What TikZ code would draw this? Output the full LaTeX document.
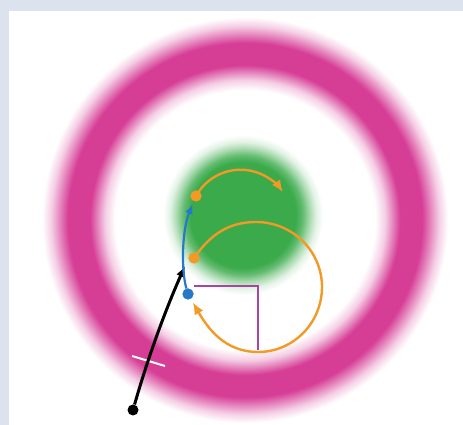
\documentclass[tikz,border=0pt]{standalone}
\usetikzlibrary{arrows.meta}

\definecolor{panelblue}{RGB}{220,226,238}
\definecolor{ringpink}{RGB}{214,62,150}
\definecolor{diskgreen}{RGB}{58,170,74}
\definecolor{pathorange}{RGB}{242,153,38}
\definecolor{pathblue}{RGB}{38,120,200}
\definecolor{anglepurple}{RGB}{165,70,165}

\pgfdeclareradialshading{ringfade}{\pgfpoint{0bp}{0bp}}{color(0bp)=(white); color(15.85bp)=(white); color(17.07bp)=(ringpink!25); color(18.05bp)=(ringpink!65); color(18.9bp)=(ringpink); color(21.6bp)=(ringpink); color(22.56bp)=(ringpink!65); color(23.66bp)=(ringpink!25); color(24.76bp)=(white); color(50bp)=(white)}
\pgfdeclareradialshading{diskfade}{\pgfpoint{0bp}{0bp}}{color(0bp)=(diskgreen); color(15.5bp)=(diskgreen); color(17.5bp)=(diskgreen!80); color(19.5bp)=(diskgreen!45); color(21.5bp)=(diskgreen!15); color(23.5bp)=(white); color(50bp)=(white)}

\begin{document}
\begin{tikzpicture}[
                x=1pt, y=1pt,
                dot/.style={circle,fill=#1,inner sep=0pt,minimum size=11pt},
                black path/.style={line width=3pt,black,-{Latex[length=11pt,width=9pt]}},
                blue path/.style={line width=2.2pt,pathblue,-{Latex[length=10pt,width=8pt]}},
                orange path/.style={line width=2.4pt,pathorange,-{Latex[length=12pt,width=10pt]}},
                right angle/.style={line width=1.4pt,anglepurple}
            ]

            \useasboundingbox (0,0) rectangle (463,425);
            \fill[panelblue] (0,0) rectangle (463,425);
            \fill[white] (9,0) rectangle (463,414);

            \begin{scope}
                \clip (9,0) rectangle (463,414);
                \shade[shading=ringfade] (245,205) circle (205);
                \shade[shading=diskfade] (243,210) circle (85);
            \end{scope}

            % right angle in the lower circle
            \draw[right angle] (194,139) -- (258,139) -- (258,75);

            \node[dot=black] (start) at (133,15) {};
            \node[dot=pathblue] (bluedot) at (188,131) {};
            \node[dot=pathorange] (lowdot) at (194,167) {};
            \node[dot=pathorange] (topdot) at (196,229) {};
            \coordinate (blacktip) at (185,159);

            % tick across the black path
            \draw[line width=2pt,white] (132,69) -- (165,59);

            \draw[black path] (start) .. controls (147,64) and (164,112) .. (blacktip);
            \draw[blue path, shorten >=3pt] (bluedot) .. controls (181,155) and (182,195) .. (topdot);
            \draw[orange path] (topdot.center) arc[start angle=151, end angle=34, radius=51];
            \draw[orange path, shorten >=4pt] (lowdot.center) to[out=55,in=180] (256,203)
                to[out=0,in=90] (322,138) to[out=-90,in=0] (258,73) to[out=180,in=-60] (bluedot);

            \node[dot=pathblue] at (bluedot) {};
            \node[dot=pathorange] at (lowdot) {};
            \node[dot=pathorange] at (topdot) {};

        \end{tikzpicture}
\end{document}
